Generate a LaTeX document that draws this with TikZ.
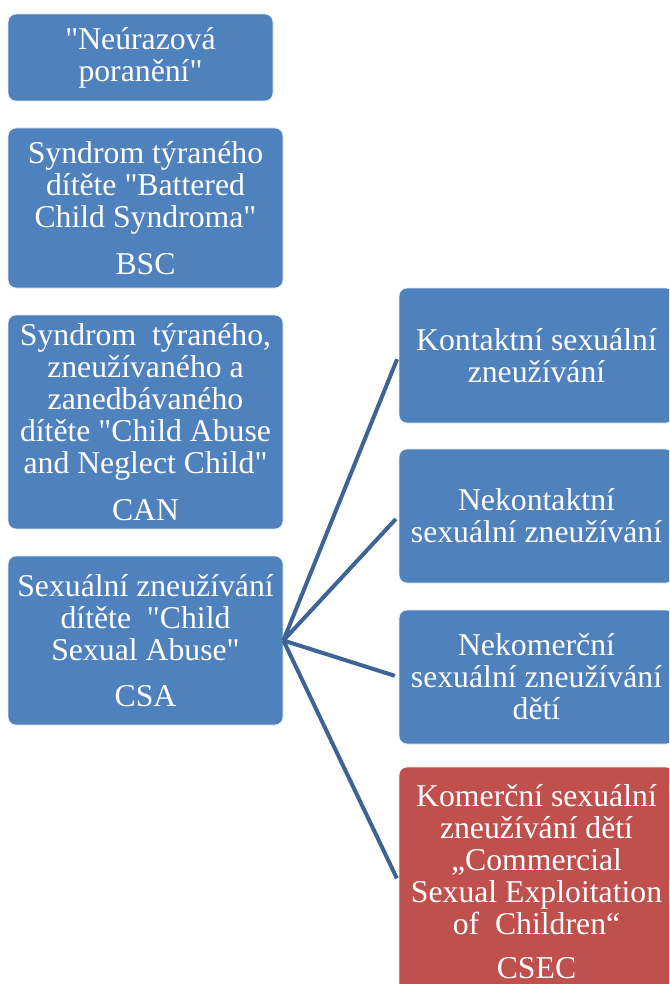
\documentclass[tikz,border=0pt]{standalone}
\usepackage{fontspec}
\setmainfont{Liberation Serif}[Ligatures=TeXOff]
\definecolor{boxblue}{RGB}{79,129,189}
\definecolor{boxred}{RGB}{192,80,77}
\definecolor{linkblue}{RGB}{61,100,148}
\begin{document}
\begin{tikzpicture}[x=0.75pt,y=-0.75pt,
  box/.style={draw=white!85!boxblue,line width=0.6pt,fill=boxblue,rounded corners=6pt,
    text=white,align=center,inner sep=0pt,font=\fontsize{23.8}{24}\selectfont},
  redbox/.style={box,fill=boxred,draw=white!85!boxred},
  link/.style={draw=linkblue,line width=3pt}]
\useasboundingbox (0,0) rectangle (669,984);
\clip (0,0) rectangle (669,984);
\node[box,minimum width=198.75pt,minimum height=65.25pt] (b1) at (140.5,57.5)
  {"Neúrazová\\poranění"};
\node[box,minimum width=206.25pt,minimum height=120pt] (b2) at (145.5,208)
  {Syndrom týraného\\dítěte "Battered\\Child Syndroma"\\[11pt]BSC};
\node[box,minimum width=206.25pt,minimum height=160.5pt] (b3) at (145.5,422)
  {Syndrom\ \ týraného,\\zneužívaného a\\zanedbávaného\\dítěte "Child Abuse\\and Neglect Child"\\[11pt]CAN};
\node[box,minimum width=206.25pt,minimum height=126.75pt] (b4) at (145.5,640.5)
  {Sexuální zneužívání\\dítěte\ \ "Child\\Sexual Abuse"\\[11pt]CSA};
\node[box,minimum width=206.25pt,minimum height=101.25pt] (r1) at (536.5,355.5)
  {Kontaktní sexuální\\zneužívání};
\node[box,minimum width=206.25pt,minimum height=100.5pt] (r2) at (536.5,516)
  {Nekontaktní\\sexuální zneužívání};
\node[box,minimum width=206.25pt,minimum height=100.5pt] (r3) at (536.5,677)
  {Nekomerční\\sexuální zneužívání\\dětí};
\node[redbox,minimum width=206.25pt,minimum height=172.5pt] (r4) at (536.5,882)
  {Komerční sexuální\\zneužívání dětí\\„Commercial\\Sexual Exploitation\\of\ \ Children“\\[9pt]CSEC};
\foreach \r in {r1,r2,r3,r4}
  \draw[link,shorten >=3pt] (b4.east) -- (\r.west);
\end{tikzpicture}
\end{document}
